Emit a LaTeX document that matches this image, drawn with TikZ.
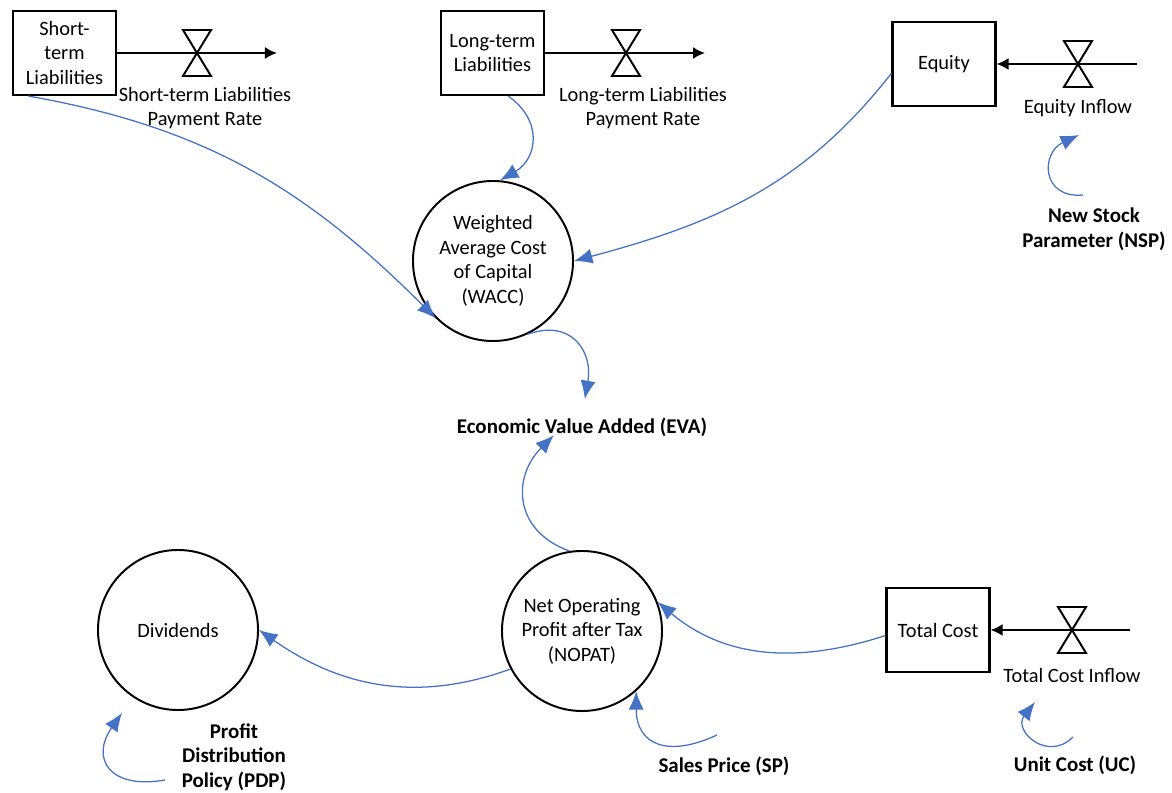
\documentclass[tikz,border=0pt]{standalone}
\usepackage{fontspec}
\setmainfont{Carlito}
\usetikzlibrary{arrows.meta}
\definecolor{linkblue}{RGB}{68,114,196}
\begin{document}
\begin{tikzpicture}[x=0.025cm,y=-0.025cm,
    font=\fontsize{14.5}{17.5}\selectfont,
    stock/.style={draw,line width=1.5pt,minimum width=2.575cm,minimum height=2.1cm,align=center,inner sep=1pt},
    aux/.style={draw,circle,line width=1.4pt,minimum size=4cm,align=center,inner sep=0pt},
    lbl/.style={align=center,inner sep=1pt},
    par/.style={align=center,inner sep=1pt,font=\fontsize{14.9}{17.5}\selectfont\bfseries},
    flow/.style={line width=1.4pt,-{Latex[length=3mm,width=3mm]}},
    link/.style={linkblue,line width=0.9pt,-{Latex[length=4.6mm,width=3.8mm]}},
    valve/.pic={\draw[line width=1.4pt] (-14,-23) -- (14,-23) -- (-14,23) -- (14,23) -- cycle;}]
  \useasboundingbox (0,0) rectangle (1172,793);
  \draw
    (64.5,53) node[stock] (stl) {Short-\\term\\Liabilities}
    (492.5,53) node[stock] (ltl) {Long-term\\Liabilities}
    (944,64) node[stock] (eq) {Equity}
    (938,630) node[stock] (tc) {Total Cost}
    (493,261) node[aux] (wacc) {Weighted\\Average Cost\\of Capital\\(WACC)}
    (582,631) node[aux] (nopat) {Net Operating\\Profit after Tax\\(NOPAT)}
    (178,630) node[aux] (div) {Dividends}
    (582,427) node[par] (eva) {Economic Value Added (EVA)}
    (205,108) node[lbl] (stlrate) {Short-term Liabilities\\Payment Rate}
    (643,108) node[lbl] (ltlrate) {Long-term Liabilities\\Payment Rate}
    (1078,108) node[lbl] (eqin) {Equity Inflow}
    (1072,675) node[lbl] (tcin) {Total Cost Inflow}
    (1094,229) node[par] (nsp) {New Stock\\Parameter (NSP)}
    (724,766) node[par] (sp) {Sales Price (SP)}
    (234,757) node[par] (pdp) {Profit\\Distribution\\Policy (PDP)}
    (1075,765) node[par] (uc) {Unit Cost (UC)};
  \coordinate (stlout) at (277,53);
  \coordinate (ltlout) at (705,53);
  \coordinate (eqsrc) at (1137,64);
  \coordinate (tcsrc) at (1130,630);
  \coordinate (nspc) at (1083,195);
  \coordinate (nsptip) at (1079,135);
  \coordinate (spc) at (717,735);
  \coordinate (pdpc) at (165,780);
  \coordinate (pdptip) at (122,713);
  \coordinate (ucc) at (1073,737);
  \coordinate (uctip) at (1035,702);
  \begin{scope}
    \draw[flow] (stl) -- (stlout);
    \draw[flow] (ltl) -- (ltlout);
    \draw[flow] (eqsrc) -- (eq);
    \draw[flow] (tcsrc) -- (tc);
    \path (197,53) pic {valve} (626,53) pic {valve}
      (1078,64) pic {valve} (1072,630) pic {valve};
  \end{scope}
  \begin{scope}[link]
    \draw (stl.-130) to[out=-10,in=135] (wacc.-135);
    \draw (ltl.-70) to[out=-35,in=30,looseness=1.3] (wacc.85);
    \draw (eq.190) to[out=232,in=15] (wacc.0);
    \draw (wacc.-65) to[out=20,in=80,looseness=1.4] ([xshift=2pt,yshift=12pt]eva.north);
    \draw (nopat.99) to[out=160,in=-135,looseness=1.3] ([xshift=-20pt,yshift=2pt]eva.south);
    \draw (tc.186) to[out=198,in=-40] (nopat.21);
    \draw (nopat.-152) to[out=200,in=-35] (div.0);
    \draw (spc) to[out=205,in=-90,looseness=1.5] (nopat.-48);
    \draw (pdpc) to[out=190,in=-125,looseness=1.8] (pdptip);
    \draw (ucc) to[out=225,in=-128,looseness=1.8] (uctip);
    \draw (nspc) to[out=185,in=-155,looseness=1.8] (nsptip);
  \end{scope}
\end{tikzpicture}
\end{document}
